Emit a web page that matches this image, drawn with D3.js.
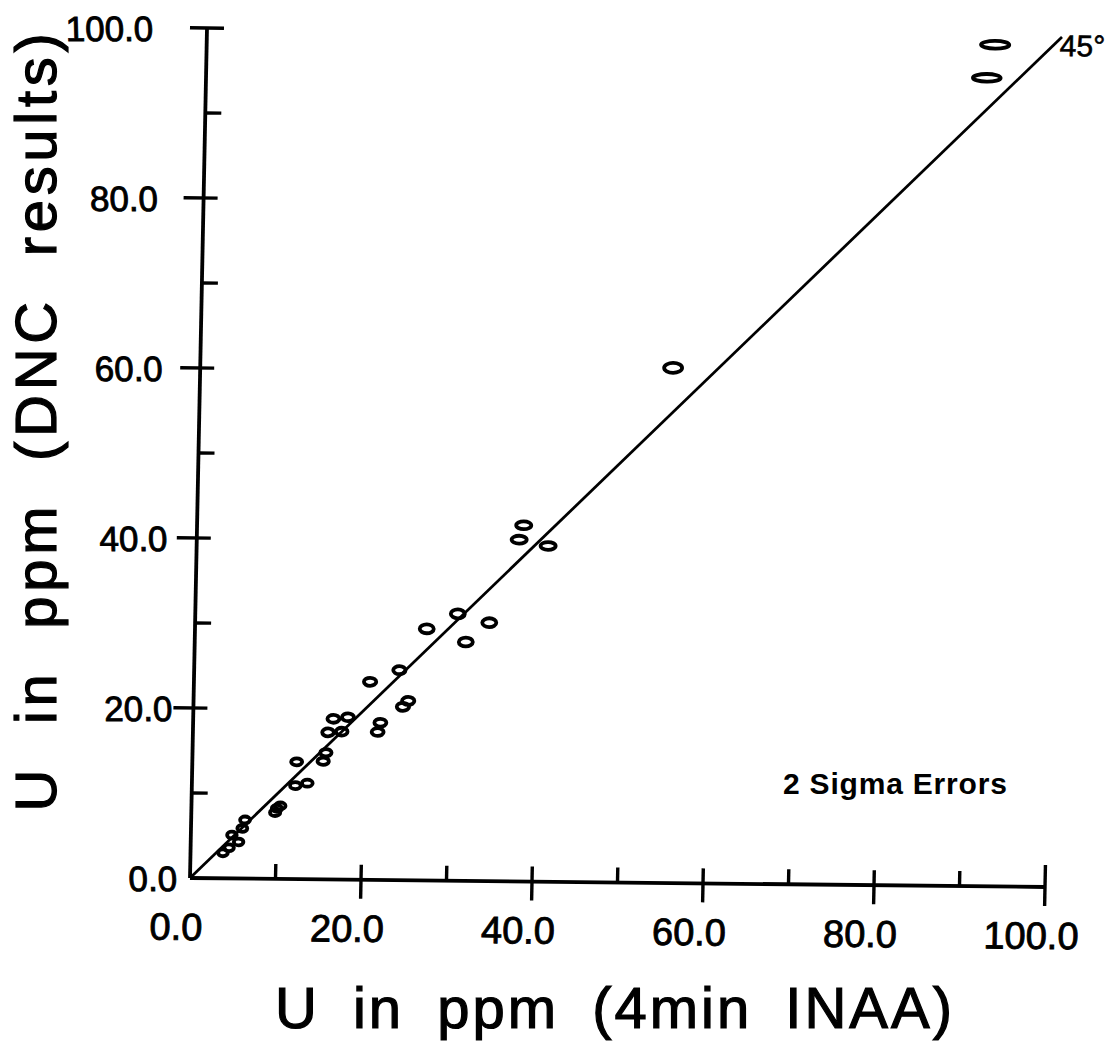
<!DOCTYPE html>
<html>
<head>
<meta charset="utf-8">
<script src="https://cdn.jsdelivr.net/npm/d3@7"></script>
<style>
  html, body { margin: 0; padding: 0; background: #fff; }
  svg { display: block; }
</style>
</head>
<body>
<svg id="chart" width="1114" height="1042"></svg>
<script>
// ---- data ----
const inaa = [92.2, 91.3, 55.3, 38.2, 37.7, 41.1, 30.7, 34.4, 27.1, 31.7, 24.0, 20.6, 25.1, 24.5,
              16.4, 18.1, 15.8, 17.4, 21.9, 21.6, 15.6, 15.3, 12.2, 13.5, 12.1, 10.4, 10.0, 9.8,
              6.3, 6.0, 4.8, 5.6, 4.5, 3.8];
const dnc  = [99.0, 95.1, 60.6, 41.9, 40.2, 39.5, 31.4, 30.4, 29.6, 28.1, 24.7, 23.3, 21.1, 20.4,
              18.9, 19.1, 17.3, 17.4, 18.5, 17.4, 14.9, 13.9, 13.8, 11.3, 11.0, 8.6, 8.3, 7.8,
              6.9, 5.9, 5.1, 4.3, 3.6, 3.0];
const errX = [1.65, 1.62, 1.05, 0.88, 0.88, 0.88, 0.82, 0.82, 0.82, 0.82, 0.72, 0.72, 0.72, 0.72,
              0.7, 0.7, 0.68, 0.68, 0.7, 0.7, 0.66, 0.66, 0.64, 0.62, 0.62, 0.6, 0.6, 0.6,
              0.58, 0.58, 0.56, 0.56, 0.56, 0.56];
const errY = [0.45, 0.45, 0.58, 0.46, 0.46, 0.46, 0.52, 0.52, 0.52, 0.52, 0.47, 0.47, 0.47, 0.47,
              0.46, 0.46, 0.46, 0.46, 0.46, 0.46, 0.43, 0.43, 0.41, 0.41, 0.41, 0.4, 0.4, 0.4,
              0.4, 0.4, 0.4, 0.4, 0.4, 0.4];
const majorTicks = [20, 40, 60, 80];
const minorTicks = [10, 30, 50, 70, 90];
const tickLabels = [0, 20, 40, 60, 80, 100];
const diagonal = [[0, 0], [100, 100]];
const xTitle = "U in ppm (4min INAA)";
const yTitle = "U in ppm (DNC results)";
const noteText = "2 Sigma Errors";
const lineLabel = "45°";

// ---- drawing ----
const svg = d3.select("#chart");
svg.append("rect").attr("width", 1114).attr("height", 1042).attr("fill", "#fff");

const x = d3.scaleLinear().domain([0, 100]).range([0, 855]);
const y = d3.scaleLinear().domain([0, 100]).range([0, -850]);

const font = "'Liberation Sans', Arial, sans-serif";

// plot group (slightly skewed like the scanned original)
const g = svg.append("g").attr("transform", "matrix(1,0.0105,-0.02,1,190,878)");

// axes lines
g.append("line").attr("x1", x(0)).attr("y1", 0).attr("x2", x(100)).attr("y2", 0)
  .attr("stroke", "#000").attr("stroke-width", 3.8);
g.append("line").attr("x1", 0).attr("y1", y(0)).attr("x2", 0).attr("y2", y(100))
  .attr("stroke", "#000").attr("stroke-width", 3.8);

// x ticks
g.selectAll(".xmin").data(minorTicks).enter().append("line")
  .attr("x1", d => x(d)).attr("x2", d => x(d)).attr("y1", 0).attr("y2", -15)
  .attr("stroke", "#000").attr("stroke-width", 3.4);
g.selectAll(".xmaj").data(majorTicks).enter().append("line")
  .attr("x1", d => x(d)).attr("x2", d => x(d)).attr("y1", -15).attr("y2", 19)
  .attr("stroke", "#000").attr("stroke-width", 3.4);
g.append("line").attr("x1", x(100)).attr("x2", x(100)).attr("y1", -22).attr("y2", 19)
  .attr("stroke", "#000").attr("stroke-width", 3.4);

// y ticks
g.selectAll(".ymin").data(minorTicks).enter().append("line")
  .attr("y1", d => y(d)).attr("y2", d => y(d)).attr("x1", 0).attr("x2", 16)
  .attr("stroke", "#000").attr("stroke-width", 3.4);
g.selectAll(".ymaj").data(majorTicks).enter().append("line")
  .attr("y1", d => y(d)).attr("y2", d => y(d)).attr("x1", -20).attr("x2", 14)
  .attr("stroke", "#000").attr("stroke-width", 3.4);
g.append("line").attr("y1", y(100)).attr("y2", y(100)).attr("x1", -17).attr("x2", 17)
  .attr("stroke", "#000").attr("stroke-width", 3.4);

// x tick labels
g.selectAll(".xlab").data(tickLabels).enter().append("text")
  .attr("x", d => x(d) - 13).attr("y", 62)
  .attr("text-anchor", "middle")
  .attr("font-family", font).attr("font-size", 38)
  .attr("stroke", "#000").attr("stroke-width", 0.9)
  .text(d => d.toFixed(1));

// y tick labels (own skew)
const gy = svg.append("g").attr("transform", "matrix(1,0,0.028,1,190,878)");
gy.selectAll(".ylab").data(tickLabels).enter().append("text")
  .attr("x", -13).attr("y", d => y(d) + 12.5)
  .attr("text-anchor", "end")
  .attr("font-family", font).attr("font-size", 35)
  .attr("stroke", "#000").attr("stroke-width", 0.9)
  .text(d => d.toFixed(1));

// 45 degree line
g.append("path").datum(diagonal)
  .attr("d", d3.line().x(d => x(d[0])).y(d => y(d[1])))
  .attr("stroke", "#000").attr("stroke-width", 2.8).attr("fill", "none");
g.append("text").attr("x", x(100) - 2).attr("y", y(100) + 19)
  .attr("font-family", font).attr("font-size", 30)
  .attr("stroke", "#000").attr("stroke-width", 0.6)
  .text(lineLabel);

// error ellipses
const pts = inaa.map((v, i) => ({ x: v, y: dnc[i], ex: errX[i], ey: errY[i] }));
g.selectAll(".pt").data(pts).enter().append("ellipse")
  .attr("cx", d => x(d.x)).attr("cy", d => y(d.y))
  .attr("rx", d => x(d.ex) - x(0)).attr("ry", d => y(0) - y(d.ey))
  .attr("fill", "none").attr("stroke", "#000").attr("stroke-width", 3.8);

// note
svg.append("text").attr("x", 783).attr("y", 794)
  .attr("font-family", font).attr("font-size", 30).attr("font-weight", "bold")
  .attr("letter-spacing", 0.8)
  .text(noteText);

// axis titles
svg.append("text").attr("x", 615).attr("y", 1028)
  .attr("text-anchor", "middle")
  .attr("font-family", font).attr("font-size", 58)
  .attr("letter-spacing", 3).attr("word-spacing", 14)
  .attr("stroke", "#000").attr("stroke-width", 1.2)
  .text(xTitle);
svg.append("text")
  .attr("transform", "translate(56,420) rotate(-90)")
  .attr("text-anchor", "middle")
  .attr("font-family", font).attr("font-size", 58)
  .attr("letter-spacing", 4.7).attr("word-spacing", 20)
  .attr("stroke", "#000").attr("stroke-width", 1.2)
  .text(yTitle);
</script>
</body>
</html>
